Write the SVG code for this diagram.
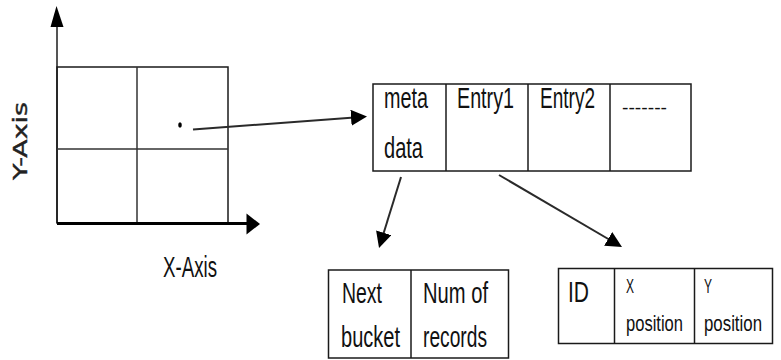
<svg xmlns="http://www.w3.org/2000/svg" width="781" height="360" viewBox="0 0 781 360">
<style>
  .box { fill: #fff; stroke: #1a1a1a; stroke-width: 1.5; }
  .div { stroke: #1a1a1a; stroke-width: 1.5; }
  .t { font-family: "Liberation Sans", Arial, sans-serif; font-size: 30px; fill: #111; }
  .ts { font-family: "Liberation Sans", Arial, sans-serif; font-size: 22px; fill: #111; }
  .tx { font-family: "Liberation Sans", Arial, sans-serif; font-size: 20px; fill: #111; }
  .conn { stroke: #2a2a2a; stroke-width: 2; fill: none; marker-end: url(#arr); }
</style>
<defs>
  <marker id="arr" viewBox="0 0 16 16" refX="10" refY="8" markerWidth="16" markerHeight="16" markerUnits="userSpaceOnUse" orient="auto">
    <path d="M0,0 L16,8 L0,16 z" fill="#000"/>
  </marker>
</defs>
<rect width="781" height="360" fill="#fff"/>

<g id="grid">
  <line x1="57" y1="223" x2="57" y2="24" stroke="#555" stroke-width="2"/>
  <polygon points="56.5,6 50.5,27 63.5,27" fill="#000"/>
  <rect x="57" y="67" width="171" height="156" fill="none" stroke="#1a1a1a" stroke-width="1.5"/>
  <line x1="137" y1="67" x2="137" y2="223" stroke="#333" stroke-width="1.5"/>
  <line x1="57" y1="149" x2="228" y2="149" stroke="#333" stroke-width="1.5"/>
  <line x1="57" y1="223.5" x2="248" y2="223.5" stroke="#000" stroke-width="3"/>
  <polygon points="260,224 246.5,213.5 246.5,234.5" fill="#000"/>
  <ellipse cx="180" cy="125" rx="1.8" ry="2.8" fill="#000"/>
  <text x="0" y="0" transform="translate(27,180) rotate(-90)" font-family="DejaVu Sans, Verdana, sans-serif" font-size="19" fill="#222" stroke="#222" stroke-width="0.4" textLength="78" lengthAdjust="spacingAndGlyphs">Y-Axis</text>
  <text class="t" x="163" y="277" textLength="54" lengthAdjust="spacingAndGlyphs">X-Axis</text>
</g>

<g id="bucket">
  <rect class="box" x="373" y="84" width="318" height="87"/>
  <line class="div" x1="446" y1="84" x2="446" y2="171"/>
  <line class="div" x1="528" y1="84" x2="528" y2="171"/>
  <line class="div" x1="610" y1="84" x2="610" y2="171"/>
  <text class="t" x="384" y="108" textLength="44" lengthAdjust="spacingAndGlyphs">meta</text>
  <text class="t" x="384" y="158" textLength="39" lengthAdjust="spacingAndGlyphs">data</text>
  <text class="t" x="457" y="108" textLength="57" lengthAdjust="spacingAndGlyphs">Entry1</text>
  <text class="t" x="540" y="108" textLength="55" lengthAdjust="spacingAndGlyphs">Entry2</text>
  <text x="622" y="114" font-family="Liberation Sans, Arial, sans-serif" font-size="19" fill="#111" textLength="45" lengthAdjust="spacingAndGlyphs">-------</text>
</g>

<g id="metadata">
  <rect class="box" x="328.5" y="270" width="180" height="88"/>
  <line class="div" x1="411" y1="270" x2="411" y2="358"/>
  <text class="t" x="342" y="303" textLength="40" lengthAdjust="spacingAndGlyphs">Next</text>
  <text class="t" x="341" y="347" textLength="59" lengthAdjust="spacingAndGlyphs">bucket</text>
  <text class="t" x="423" y="303" textLength="65" lengthAdjust="spacingAndGlyphs">Num of</text>
  <text class="t" x="423" y="347" textLength="64" lengthAdjust="spacingAndGlyphs">records</text>
</g>

<g id="entry">
  <rect class="box" x="558.5" y="268.5" width="214" height="75"/>
  <line class="div" x1="614.5" y1="268.5" x2="614.5" y2="343.5"/>
  <line class="div" x1="694.5" y1="268.5" x2="694.5" y2="343.5"/>
  <text class="t" x="568" y="302" textLength="21" lengthAdjust="spacingAndGlyphs">ID</text>
  <text class="tx" x="626" y="293" textLength="8" lengthAdjust="spacingAndGlyphs">X</text>
  <text class="ts" x="626" y="331" textLength="57" lengthAdjust="spacingAndGlyphs">position</text>
  <text class="tx" x="704" y="293" textLength="8" lengthAdjust="spacingAndGlyphs">Y</text>
  <text class="ts" x="704" y="331" textLength="58" lengthAdjust="spacingAndGlyphs">position</text>
</g>

<g id="connectors">
  <line class="conn" x1="193" y1="129.5" x2="361" y2="117"/>
  <line class="conn" x1="401" y1="177" x2="380.8" y2="242.3"/>
  <line class="conn" x1="499" y1="175" x2="616.8" y2="244"/>
</g>
</svg>
